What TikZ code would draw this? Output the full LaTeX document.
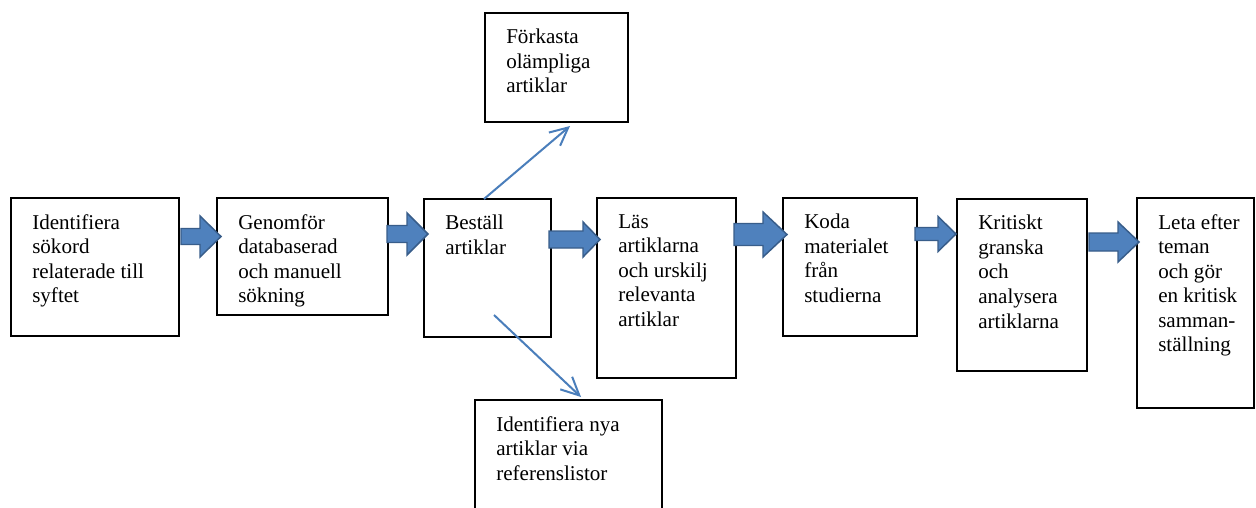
\documentclass[tikz,border=0pt]{standalone}
\usepackage{fontspec}
\setmainfont{Liberation Serif}
\usetikzlibrary{calc,arrows.meta}
\definecolor{arrowfill}{HTML}{4F81BD}
\definecolor{arrowline}{HTML}{385D8A}
\definecolor{thinblue}{HTML}{4A7EBB}
\tikzset{
  box/.style={draw=black, line width=1.3pt, fill=white, rectangle, inner sep=0pt, outer sep=0pt},
  txt/.style={inner sep=0pt, align=left, font=\fontsize{15.8pt}{18.4pt}\selectfont},
  blockarrow/.style={fill=arrowfill, draw=arrowline, line width=1.1pt, line join=miter},
  thinarrow/.style={draw=thinblue, line width=1.5pt, -{Straight Barb[length=13.5pt,width=13pt]}}
}
\newcommand\mkbox[6]{%
  \node[box, anchor=north west, minimum width={(#4-#2)*0.75pt}, minimum height={(#5-#3)*0.75pt}] (#1) at (#2,#3) {};
  \node[txt, anchor=north west] (#1t) at ($(#1.north west)+(21,16)$) {#6};}
\newcommand\barrow[6]{%
  \draw[blockarrow] ({#1},{#4-#5/2}) -- ({#2},{#4-#5/2}) -- ({#2},{#4-#6/2}) -- ({#3},{#4})
    -- ({#2},{#4+#6/2}) -- ({#2},{#4+#5/2}) -- ({#1},{#4+#5/2}) -- cycle;}
\begin{document}
\begin{tikzpicture}[x=0.75pt,y=-0.75pt]
\useasboundingbox (0,0) rectangle (1256,507);
\clip (0,0) rectangle (1256,507);
\fill[white] (0,0) rectangle (1256,507);
\mkbox{b1}{11}{198}{179}{336}{Identifiera\\sökord\\relaterade till\\syftet}
\mkbox{b2}{217}{198}{388}{315}{Genomför\\databaserad\\och manuell\\sökning}
\mkbox{b3}{424}{199}{551}{337}{Beställ\\artiklar}
\mkbox{b4}{597}{198}{736}{378}{Läs\\artiklarna\\och urskilj\\relevanta\\artiklar}
\mkbox{b5}{783}{198}{917}{336}{Koda\\materialet\\från\\studierna}
\mkbox{b6}{957}{199}{1087}{371}{Kritiskt\\granska\\och\\analysera\\artiklarna}
\mkbox{b7}{1137}{198}{1254}{408}{Leta efter\\teman\\och gör\\en kritisk\\samman-\\ställning}
\mkbox{tb}{485}{13}{628}{122}{Förkasta\\olämpliga\\artiklar}
\mkbox{bb}{475}{400}{662}{540}{Identifiera nya\\artiklar via\\referenslistor}
% block arrows
\barrow{181}{200}{221}{236.5}{16}{41}
\barrow{387}{407}{428}{234}{17}{42}
\barrow{549}{583}{600}{239.5}{17}{35}
\barrow{734}{763}{787}{234.5}{22}{45}
\barrow{915}{938}{956}{234}{13}{35}
\barrow{1089}{1118}{1139}{242}{18}{40}
% thin arrows
\coordinate (upend) at ($(tb.south west)+(85,4)$);
\coordinate (downstart) at ($(b3.north west)+(70,116)$);
\coordinate (downend) at ($(bb.north west)+(106,-3)$);
\draw[thinarrow] ($(b3.north west)+(60,0)$) -- (upend);
\draw[thinarrow] (downstart) -- (downend);
\end{tikzpicture}
\end{document}
